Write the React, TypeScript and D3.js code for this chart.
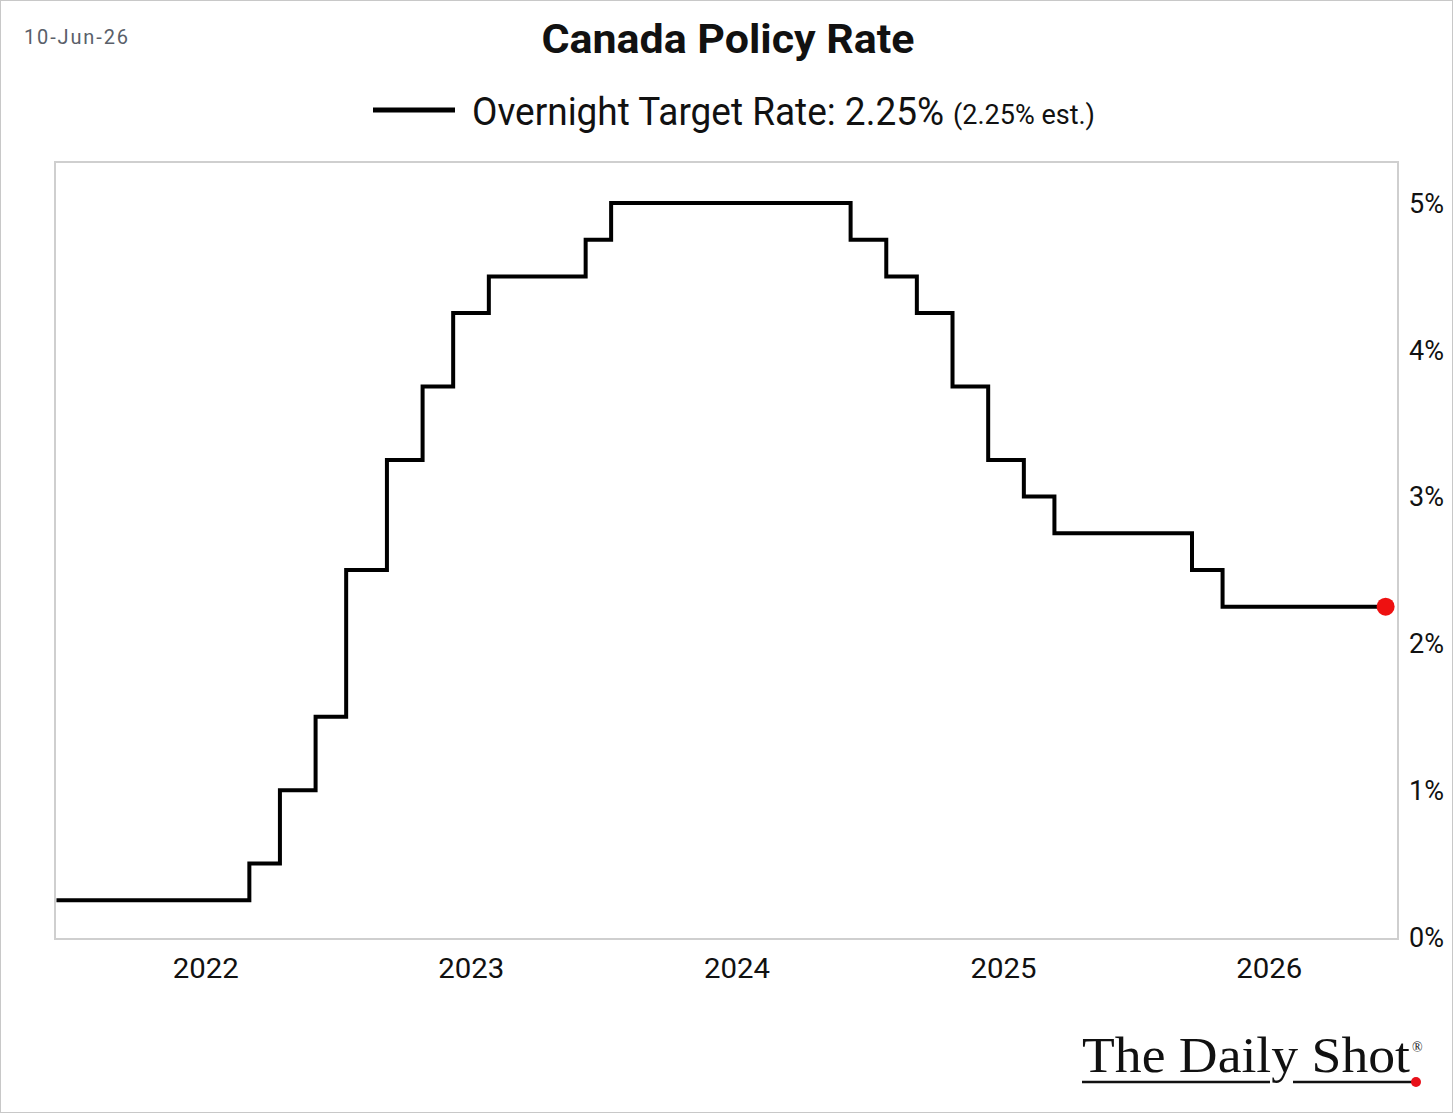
import React, { useEffect, useRef } from 'react';
import * as d3 from 'd3';

// Bank of Canada overnight target rate, decision dates and new level (%)
const rateDates = [
  '2021-06-10', '2022-03-02', '2022-04-13', '2022-06-01', '2022-07-13',
  '2022-09-07', '2022-10-26', '2022-12-07', '2023-01-25', '2023-06-07',
  '2023-07-12', '2024-06-05', '2024-07-24', '2024-09-04', '2024-10-23',
  '2024-12-11', '2025-01-29', '2025-03-12', '2025-09-17', '2025-10-29',
  '2026-06-10',
];
const rateValues = [
  0.25, 0.5, 1.0, 1.5, 2.5,
  3.25, 3.75, 4.25, 4.5, 4.75,
  5.0, 4.75, 4.5, 4.25, 3.75,
  3.25, 3.0, 2.75, 2.5, 2.25,
  2.25,
];
const yTicks = [0, 1, 2, 3, 4, 5];
const xTickYears = [2022, 2023, 2024, 2025, 2026];

const WIDTH = 1456;
const HEIGHT = 1114;
const plot = { left: 55, right: 1398, top: 162, bottom: 939 };

function App() {
  const svgRef = useRef<SVGSVGElement>(null);

  useEffect(() => {
    const svg = d3.select(svgRef.current);
    svg.selectAll('*').remove();

    const parse = d3.timeParse('%Y-%m-%d');
    const data = rateDates.map((d, i) => ({ date: parse(d) as Date, value: rateValues[i] }));

    const x = d3.scaleTime()
      .domain([new Date(2021, 5, 8), new Date(2026, 5, 27)])
      .range([plot.left, plot.right]);

    const y = d3.scaleLinear()
      .domain([0, 5])
      .range([937, 203]);

    // outer frame
    svg.append('rect')
      .attr('x', 0.5).attr('y', 0.5)
      .attr('width', WIDTH - 4).attr('height', HEIGHT - 2)
      .attr('fill', 'white')
      .attr('stroke', '#c8c8c8')
      .attr('stroke-width', 1);

    // date stamp
    svg.append('text')
      .attr('x', 24).attr('y', 44)
      .attr('font-family', 'Roboto, sans-serif')
      .attr('font-size', 20)
      .attr('textLength', 104)
      .attr('lengthAdjust', 'spacing')
      .attr('fill', '#5a5f6a')
      .text('10-Jun-26');

    // title
    svg.append('text')
      .attr('x', 728).attr('y', 53)
      .attr('text-anchor', 'middle')
      .attr('font-family', 'Roboto, sans-serif')
      .attr('font-weight', 700)
      .attr('font-size', 40)
      .attr('textLength', 373)
      .attr('lengthAdjust', 'spacingAndGlyphs')
      .attr('fill', '#111')
      .text('Canada Policy Rate');

    // legend
    svg.append('line')
      .attr('x1', 373).attr('x2', 455)
      .attr('y1', 110).attr('y2', 110)
      .attr('stroke', '#000')
      .attr('stroke-width', 5);

    svg.append('text')
      .attr('x', 472).attr('y', 125)
      .attr('font-family', 'Roboto, sans-serif')
      .attr('font-size', 38)
      .attr('textLength', 472)
      .attr('lengthAdjust', 'spacingAndGlyphs')
      .attr('fill', '#111')
      .text('Overnight Target Rate: 2.25%');

    svg.append('text')
      .attr('x', 953).attr('y', 124)
      .attr('font-family', 'Roboto, sans-serif')
      .attr('font-size', 27)
      .attr('textLength', 142)
      .attr('lengthAdjust', 'spacingAndGlyphs')
      .attr('fill', '#111')
      .text('(2.25% est.)');

    // plot box
    svg.append('rect')
      .attr('x', plot.left).attr('y', plot.top)
      .attr('width', plot.right - plot.left)
      .attr('height', plot.bottom - plot.top)
      .attr('fill', 'none')
      .attr('stroke', '#cfcfcf')
      .attr('stroke-width', 2);

    // right axis labels
    svg.append('g')
      .selectAll('text')
      .data(yTicks)
      .enter()
      .append('text')
      .attr('x', 1409)
      .attr('y', d => y(d))
      .attr('dy', '0.36em')
      .attr('font-family', 'Roboto, sans-serif')
      .attr('font-size', 27)
      .attr('fill', '#111')
      .text(d => `${d}%`);

    // bottom axis labels
    svg.append('g')
      .selectAll('text')
      .data(xTickYears)
      .enter()
      .append('text')
      .attr('x', d => x(new Date(d, 0, 1)))
      .attr('y', 978)
      .attr('text-anchor', 'middle')
      .attr('font-family', 'Roboto, sans-serif')
      .attr('font-size', 28)
      .attr('textLength', 66)
      .attr('lengthAdjust', 'spacingAndGlyphs')
      .attr('fill', '#111')
      .text(d => String(d));

    // rate line
    const line = d3.line<{ date: Date; value: number }>()
      .x(d => x(d.date))
      .y(d => y(d.value))
      .curve(d3.curveStepAfter);

    svg.append('path')
      .datum(data)
      .attr('d', line)
      .attr('fill', 'none')
      .attr('stroke', '#000')
      .attr('stroke-width', 4)
      .attr('stroke-linejoin', 'miter');

    const last = data[data.length - 1];
    svg.append('circle')
      .attr('cx', x(last.date))
      .attr('cy', y(last.value))
      .attr('r', 9)
      .attr('fill', '#ee1111');

    // logo
    const logo = svg.append('g');
    logo.append('text')
      .attr('x', 1082).attr('y', 1072)
      .attr('font-family', '"Liberation Serif", serif')
      .attr('font-size', 50)
      .attr('textLength', 328)
      .attr('lengthAdjust', 'spacingAndGlyphs')
      .attr('fill', '#111')
      .text('The Daily Shot');
    logo.append('text')
      .attr('x', 1412).attr('y', 1052)
      .attr('font-family', '"Liberation Serif", serif')
      .attr('font-size', 14)
      .attr('fill', '#111')
      .text('®');
    logo.append('line')
      .attr('x1', 1082).attr('x2', 1270)
      .attr('y1', 1082).attr('y2', 1082)
      .attr('stroke', '#111').attr('stroke-width', 2.5);
    logo.append('line')
      .attr('x1', 1293).attr('x2', 1414)
      .attr('y1', 1082).attr('y2', 1082)
      .attr('stroke', '#111').attr('stroke-width', 2.5);
    logo.append('circle')
      .attr('cx', 1416).attr('cy', 1082)
      .attr('r', 5)
      .attr('fill', '#e8111a');
  }, []);

  return (
    <div style={{ position: 'absolute', left: 0, top: 0 }}>
      <svg ref={svgRef} width={WIDTH} height={HEIGHT} style={{ display: 'block' }}></svg>
    </div>
  );
}

export default App;
